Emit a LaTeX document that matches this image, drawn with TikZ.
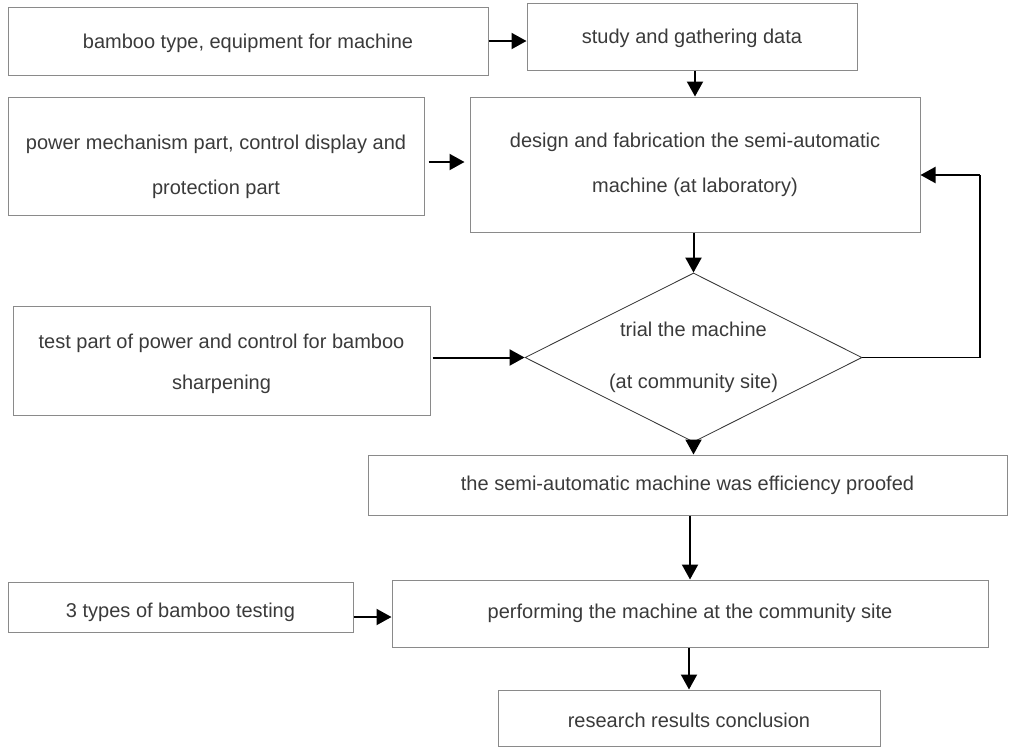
\documentclass[tikz,border=0pt]{standalone}
\usepackage{fontspec}
\setmainfont{Liberation Sans}
\usetikzlibrary{arrows.meta,shapes.geometric}

\definecolor{boxline}{HTML}{8A8A8A}
\definecolor{boxtext}{HTML}{3A3A3A}

\begin{document}
\begin{tikzpicture}[x=0.5pt, y=-0.5pt,
        stepbox/.style={draw=boxline, line width=0.5pt, text=boxtext, align=center,
            font=\fontsize{10}{22.5}\selectfont, inner sep=0pt},
        flowarrow/.style={-{Triangle[length=7.5pt, width=8pt]}, line width=1pt}]
        \useasboundingbox (0,0) rectangle (1012,751);

        % Boxes
        \node[stepbox, minimum width=240pt, minimum height=34pt] (bamboo) at (248,41) {\rule{0pt}{9.3pt}bamboo type, equipment for machine};
        \node[stepbox, minimum width=165pt, minimum height=33.5pt] (study) at (692,36.5) {\rule{0pt}{9.3pt}study and gathering data};
        \node[stepbox, minimum width=208pt, minimum height=59pt] (power) at (216,156) {\rule{0pt}{18.3pt}power mechanism part, control display and\\protection part};
        \node[stepbox, minimum width=225pt, minimum height=67.5pt] (design) at (695,164.5) {design and fabrication the semi-automatic\\machine (at laboratory)};
        \node[draw=black!80, line width=0.4pt, shape=diamond, aspect=2, inner sep=0pt, text=boxtext, align=center,
            font=\fontsize{10}{12}\selectfont, minimum width=168.5pt, minimum height=84.5pt] (trial) at (693.5,357.5) {trial the machine\\[14pt](at community site)};
        \node[stepbox, font=\fontsize{10}{20.5}\selectfont, minimum width=208.5pt, minimum height=54.5pt] (test) at (221.5,360.5) {\rule{0pt}{10.3pt}test part of power and control for bamboo\\sharpening};
        \node[stepbox, minimum width=319.5pt, minimum height=30pt] (proofed) at (687.5,485) {the semi-automatic machine was efficiency proofed};
        \node[stepbox, minimum width=172.5pt, minimum height=25pt] (types) at (180.5,607) {\rule{0pt}{12.3pt}3 types of bamboo testing};
        \node[stepbox, minimum width=298pt, minimum height=33.5pt] (perform) at (690,613.5) {performing the machine at the community site};
        \node[stepbox, minimum width=191pt, minimum height=28pt] (result) at (689,718) {\rule{0pt}{9.3pt}research results conclusion};

        % Inputs from the left
        \draw[flowarrow] (bamboo.east) -- (bamboo.east -| study.west);
        \draw[flowarrow, shorten <=2pt, shorten >=2.5pt] ([yshift=-3pt]power.east) -- ([yshift=-3pt]power.east -| design.west);
        \draw[flowarrow, shorten <=1pt] ([yshift=1.5pt]test.east) -- ([yshift=1.5pt]test.east -| trial.west);
        \draw[flowarrow] ([yshift=-5pt]types.east) -- ([yshift=-5pt]types.east -| perform.west);

        % Main flow
        \draw[flowarrow] (study.south -| design.north) -- (design.north);
        \draw[flowarrow] (design.south -| trial.north) -- (trial.north);
        \draw[flowarrow] (trial.south) -- (trial.south |- proofed.north);
        \draw[flowarrow] (proofed.south -| perform.north) -- (perform.north);
        \draw[flowarrow] (perform.south -| result.north) -- (result.north);

        % Feedback loop
        \coordinate (loop) at (980,175);
        \draw[line width=0.6pt] (trial.east) -- (trial.east -| loop) -- (loop);
        \draw[flowarrow] (loop) -- (loop -| design.east);
    \end{tikzpicture}
\end{document}
